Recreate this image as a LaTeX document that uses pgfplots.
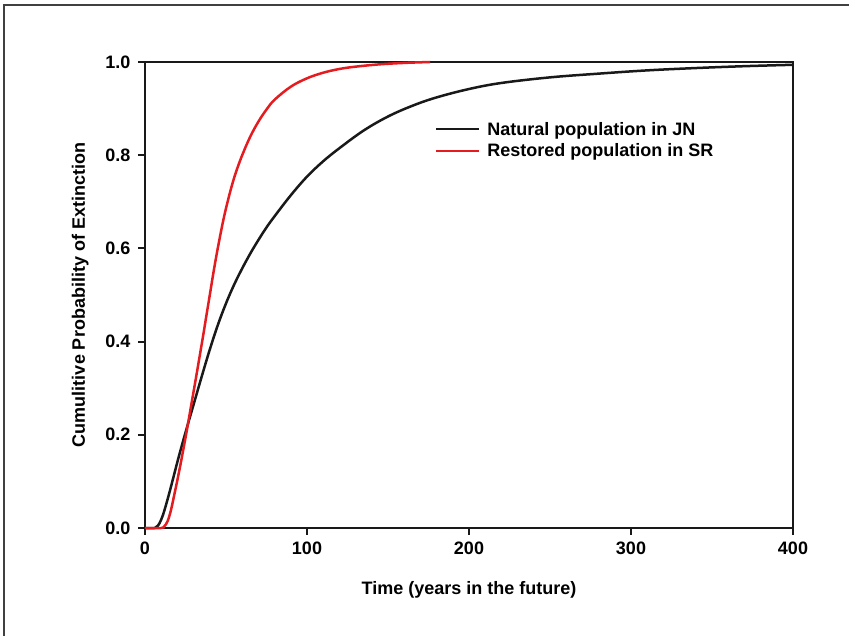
\documentclass[border=0pt]{standalone}
\usepackage{pgfplots}
\pgfplotsset{compat=1.18}
\usepackage{fontspec}
\setmainfont{Liberation Sans}
\definecolor{myred}{RGB}{228,28,32}
\definecolor{myblack}{RGB}{25,25,25}
\begin{document}
\begin{tikzpicture}
\useasboundingbox (0pt,0pt) rectangle (849pt,636pt);
\draw[line width=1.5pt, black!75] (4pt,0pt) -- (4pt,631pt) -- (849pt,631pt);
\begin{axis}[
  at={(145pt,108pt)}, anchor=south west,
  width=648pt, height=466pt, scale only axis,
  xmin=0, xmax=400, ymin=0, ymax=1,
  xtick={0,100,200,300,400},
  ytick={0,0.2,0.4,0.6,0.8,1.0},
  yticklabel style={xshift=-4pt, /pgf/number format/.cd, fixed, fixed zerofill, precision=1},
  /pgf/number format/assume math mode=true,
  tick pos=left, tick align=outside, major tick length=7pt,
  axis line style={line width=2pt, myblack},
  every tick/.style={line width=2pt, myblack},
  ticklabel style={font=\fontsize{18}{20}\selectfont\bfseries},
  xticklabel style={yshift=-3pt},
  label style={font=\fontsize{18}{20}\selectfont\bfseries},
  xlabel={Time (years in the future)},
  ylabel={Cumulitive Probability of Extinction},
  xlabel style={at={(axis description cs:0.5,-0.133)}, anchor=center},
  ylabel style={at={(axis description cs:-0.1,0.5)}, anchor=center},
  clip=false,
  legend style={at={(axis description cs:0.447,0.876)}, anchor=north west,
    draw=none, fill=none, font=\fontsize{18}{20}\selectfont\bfseries,
    row sep=3pt, inner sep=0pt},
  legend cell align=left,
  legend image code/.code={\draw[#1] (0pt,0pt) -- (43pt,0pt); \path (48pt,0pt);},
]
\addplot[myblack, line width=2.5pt, smooth, tension=0.6] coordinates {
(0,0)(6,0)(8,0.005)(10,0.018)(12,0.038)(15,0.075)(18,0.115)(21,0.155)(25,0.205)(30,0.265)(35,0.325)(40,0.383)(45,0.436)(50,0.482)(55,0.522)(60,0.557)(65,0.589)(70,0.618)(75,0.645)(80,0.669)(90,0.714)(100,0.754)(110,0.787)(120,0.815)(135,0.853)(150,0.883)(165,0.906)(180,0.924)(200,0.942)(220,0.955)(250,0.967)(280,0.975)(310,0.982)(340,0.987)(370,0.991)(400,0.994)
};
\addlegendentry{Natural population in JN}
\addplot[myred, line width=2.5pt, smooth, tension=0.6] coordinates {
(0,0)(10,0)(12,0.004)(14,0.015)(16,0.038)(18,0.07)(20,0.103)(22,0.138)(24,0.175)(26,0.213)(28,0.253)(30,0.293)(32,0.333)(34,0.374)(36,0.415)(38,0.458)(40,0.5)(42,0.543)(44,0.583)(46,0.62)(48,0.655)(50,0.686)(53,0.727)(56,0.762)(60,0.8)(65,0.84)(70,0.872)(75,0.898)(80,0.919)(90,0.947)(100,0.965)(110,0.977)(120,0.985)(130,0.99)(145,0.995)(160,0.998)(176,1)
};
\addlegendentry{Restored population in SR}
\end{axis}
\end{tikzpicture}
\end{document}
